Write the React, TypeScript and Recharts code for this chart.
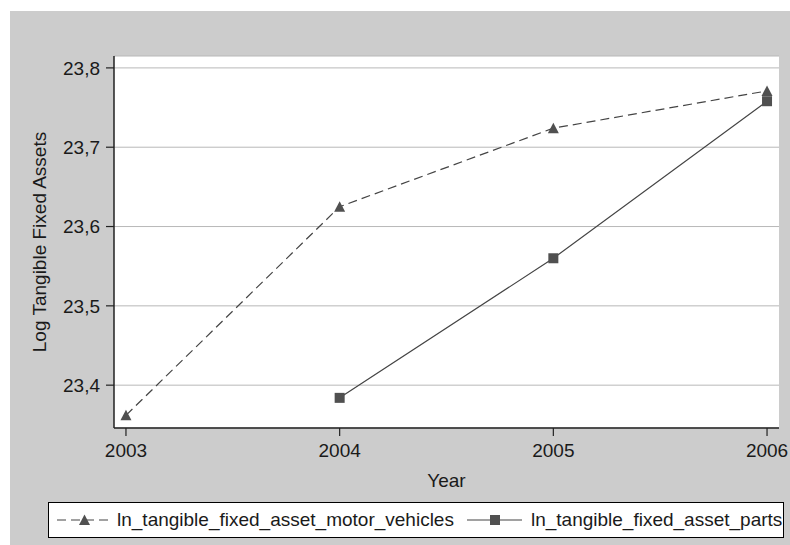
import React from "react";
import { CartesianGrid, Label, Legend, Line, LineChart, XAxis, YAxis } from "recharts";

const years = [2003, 2004, 2005, 2006];
const motorVehicles = [23.362, 23.625, 23.724, 23.771];
const parts = [null, 23.384, 23.56, 23.758];
const yTicks = [23.4, 23.5, 23.6, 23.7, 23.8];

const FONT = "'Liberation Sans', Arial, sans-serif";
const FS = 19;
const INK = "#1a1a1a";
const LINE = "#444444";
const MARK = "#505050";

const data = years.map((year, i) => ({
  year,
  ln_tangible_fixed_asset_motor_vehicles: motorVehicles[i],
  ln_tangible_fixed_asset_parts: parts[i],
}));

function TriangleDot(props: any) {
  const { cx, cy, index } = props;
  if (cx == null || cy == null) return <g key={`t${index}`} />;
  return <polygon key={`t${index}`} points={`${cx - 5.5},${cy + 5} ${cx + 5.5},${cy + 5} ${cx},${cy - 5.5}`} fill={MARK} />;
}

function SquareDot(props: any) {
  const { cx, cy, index } = props;
  if (cx == null || cy == null) return <g key={`s${index}`} />;
  return <rect key={`s${index}`} x={cx - 5} y={cy - 5} width={10} height={10} fill={MARK} />;
}

function LegendBox({ payload }: any) {
  return (
    <div
      style={{
        boxSizing: "border-box",
        height: 36,
        border: "1px solid #000",
        background: "#fff",
        display: "flex",
        alignItems: "center",
        fontFamily: FONT,
        fontSize: FS,
        color: INK,
        whiteSpace: "nowrap",
      }}
    >
      {(payload || []).map((entry: any, i: number) => {
        const dashed = entry.dataKey === "ln_tangible_fixed_asset_motor_vehicles";
        return (
          <div key={entry.dataKey} style={{ display: "flex", alignItems: "center", marginLeft: i === 0 ? 8 : 13 }}>
            <svg width={55} height={14}>
              <line x1={0} y1={7} x2={55} y2={7} stroke={LINE} strokeWidth={1.2} strokeDasharray={dashed ? "9 5" : undefined} />
              {dashed ? (
                <polygon points="22,12 33,12 27.5,1.5" fill={MARK} />
              ) : (
                <rect x={23} y={2} width={10} height={10} fill={MARK} />
              )}
            </svg>
            <span style={{ marginLeft: dashed ? 5 : 9 }}>{entry.value}</span>
          </div>
        );
      })}
    </div>
  );
}

export default function App() {
  const tick = { fill: INK, fontSize: FS, fontFamily: FONT };
  return (
    <div style={{ position: "absolute", left: 0, top: 0, width: 790, height: 545, background: "#fff" }}>
      <div style={{ position: "absolute", left: 10, top: 11, width: 780, height: 534, background: "#cccccc" }} />
      <LineChart
        width={790}
        height={545}
        data={data}
        margin={{ top: 56, right: 11, bottom: 57, left: 0 }}
        style={{ position: "absolute", left: 0, top: 0 }}
      >
        <CartesianGrid vertical={false} stroke="#b8b8b8" fill="#ffffff" />
        <XAxis
          dataKey="year"
          type="number"
          domain={[2002.944, 2006.056]}
          ticks={years}
          allowDataOverflow
          height={60}
          tick={tick}
          tickSize={8}
          tickMargin={8}
          axisLine={{ stroke: "#222", strokeWidth: 1.5 }}
          tickLine={{ stroke: "#222", strokeWidth: 1.2 }}
        >
          <Label value="Year" position="insideBottom" offset={1} fill={INK} fontSize={FS} fontFamily={FONT} />
        </XAxis>
        <YAxis
          type="number"
          domain={[23.346, 23.815]}
          ticks={yTicks}
          allowDataOverflow
          width={114}
          tick={tick}
          tickSize={8}
          tickMargin={6}
          tickFormatter={(v: number) => v.toFixed(1).replace(".", ",")}
          axisLine={{ stroke: "#222", strokeWidth: 1.5 }}
          tickLine={{ stroke: "#222", strokeWidth: 1.2 }}
        >
          <Label
            content={() => (
              <text
                x={39}
                y={242}
                transform="rotate(-90 39 242)"
                textAnchor="middle"
                dominantBaseline="central"
                fill={INK}
                fontSize={FS}
                fontFamily={FONT}
              >
                Log Tangible Fixed Assets
              </text>
            )}
          />
        </YAxis>
        <Legend
          verticalAlign="middle"
          align="center"
          width={736}
          wrapperStyle={{ left: 48, top: 502 }}
          content={<LegendBox />}
        />
        <Line
          dataKey="ln_tangible_fixed_asset_motor_vehicles"
          stroke={LINE}
          strokeWidth={1.2}
          strokeDasharray="9 5"
          dot={(p: any) => <TriangleDot {...p} />}
          activeDot={false}
          isAnimationActive={false}
        />
        <Line
          dataKey="ln_tangible_fixed_asset_parts"
          stroke={LINE}
          strokeWidth={1.2}
          dot={(p: any) => <SquareDot {...p} />}
          activeDot={false}
          isAnimationActive={false}
        />
      </LineChart>
    </div>
  );
}
